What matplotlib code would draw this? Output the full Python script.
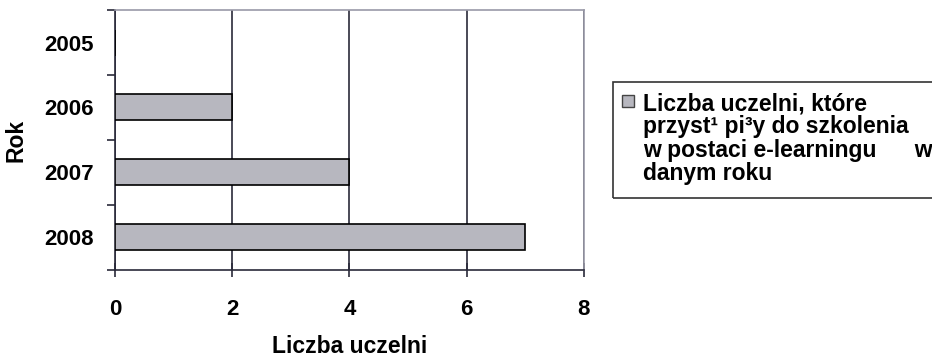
import matplotlib.pyplot as plt
import numpy as np
from matplotlib.patches import Rectangle

plt.rcParams['font.family'] = ['Liberation Sans', 'DejaVu Sans']
plt.rcParams['font.weight'] = 'bold'
plt.rcParams['axes.labelweight'] = 'bold'

years = ['2005', '2006', '2007', '2008']
counts = [0, 2, 4, 7]
series_label = ('Liczba uczelni, które\n'
                'przyst\u00b9 pi\u00b3y do szkolenia\n'
                'w postaci e-learningu      w\n'
                'danym roku')
x_ticks = [0, 2, 4, 6, 8]

BAR_COLOR = '#b7b7bf'
GRID_COLOR = '#2a2a3a'
W, H = 932, 358


def px(x, y):
    # pixel position (from top-left) to figure fraction
    return x / W, 1 - y / H


def draw_legend(fig):
    # boxed legend that runs off the right edge of the figure
    x0, y0 = px(613, 198)
    x1, y1 = px(960, 82)
    fig.patches.append(Rectangle((x0, y0), x1 - x0, y1 - y0,
                                 transform=fig.transFigure, fill=False,
                                 edgecolor='#333333', linewidth=1.2,
                                 clip_on=False))
    sx, sy = px(622, 107)
    sx1, sy1 = px(634, 95)
    fig.patches.append(Rectangle((sx, sy), sx1 - sx, sy1 - sy,
                                 transform=fig.transFigure,
                                 facecolor=BAR_COLOR, edgecolor='#444444',
                                 linewidth=1.0))
    for i, line in enumerate(series_label.split('\n')):
        tx, ty = px(643, 110 + 23.3 * i)
        fig.text(tx, ty, line, fontsize=16.5, fontweight='bold',
                 ha='left', va='baseline')


def main():
    fig = plt.figure(figsize=(W / 100, H / 100), dpi=100)
    ax = fig.add_axes([0.1234, 0.246, 0.503, 0.726])

    pos = np.arange(len(years))
    ax.barh(pos, counts, height=0.4, color=BAR_COLOR, edgecolor='black',
            linewidth=1.2, zorder=3)

    ax.set_xlim(0, 8)
    ax.set_ylim(len(years) - 0.5, -0.5)

    # vertical grid lines sit behind the bars
    ax.set_xticks(x_ticks)
    ax.grid(axis='x', color=GRID_COLOR, linewidth=1.2, zorder=0)
    ax.set_axisbelow(True)

    ax.set_yticks(pos)
    ax.set_yticklabels(years)
    ax.set_yticks(np.arange(len(years) + 1) - 0.5, minor=True)
    ax.tick_params(axis='y', which='major', length=0, pad=15, labelsize=16)
    ax.tick_params(axis='y', which='minor', length=6, direction='out',
                   width=1.2, color=GRID_COLOR)
    ax.tick_params(axis='x', length=10, direction='inout', width=1.2,
                   color=GRID_COLOR, pad=16, labelsize=16)

    for side in ('left', 'bottom'):
        ax.spines[side].set_color(GRID_COLOR)
        ax.spines[side].set_linewidth(1.2)
    for side in ('top', 'right'):
        ax.spines[side].set_color('#9a9aa8')
        ax.spines[side].set_linewidth(1.2)

    ax.set_xlabel('Liczba uczelni', fontsize=16.5, labelpad=11)
    ax.set_ylabel('Rok', fontsize=16.5, labelpad=12)

    draw_legend(fig)

    plt.savefig('out.png', dpi=100)


if __name__ == '__main__':
    main()
